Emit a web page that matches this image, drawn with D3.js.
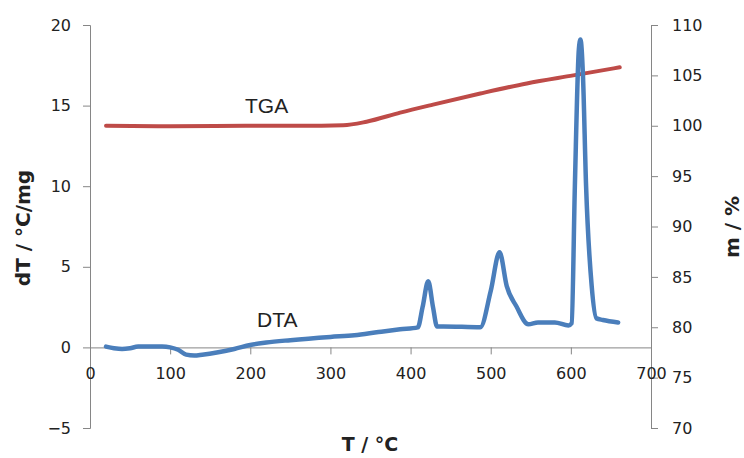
<!DOCTYPE html>
<html>
<head>
<meta charset="utf-8">
<script src="https://cdn.jsdelivr.net/npm/d3@7"></script>
<style>
  body { margin: 0; background: #fff; }
  text { font-family: "DejaVu Sans", sans-serif; fill: #222; }
  .axis path, .axis line { stroke: #868686; }
</style>
</head>
<body>
<script>
// temperature (°C) and DTA signal (dT / °C/mg)
var dtaT = [20, 30, 40, 50, 60, 70, 80, 90, 100, 110, 120, 130, 140, 160, 180, 200, 220, 250, 300, 330, 360, 387, 409, 415, 422, 428, 433, 441, 487, 500, 511, 520, 532, 547, 559, 580, 597, 601, 605, 610, 612, 615, 619, 626, 632, 640, 659];
var dtaV = [0.05, -0.05, -0.1, -0.05, 0.05, 0.05, 0.05, 0.05, 0.0, -0.15, -0.45, -0.5, -0.45, -0.3, -0.1, 0.15, 0.3, 0.45, 0.65, 0.75, 0.95, 1.12, 1.24, 2.5, 4.1, 2.5, 1.3, 1.3, 1.25, 3.5, 5.9, 3.8, 2.55, 1.43, 1.55, 1.55, 1.36, 1.5, 10, 18.5, 19.1, 17, 10, 3.8, 1.8, 1.7, 1.55];

// temperature (°C) and mass (m / %)
var tgaT = [20, 100, 200, 262, 316, 345, 387, 428, 487, 545, 603, 661];
var tgaV = [100, 99.95, 100, 100, 100.05, 100.4, 101.3, 102.1, 103.2, 104.2, 105.0, 105.8];

var xTicks = [0, 100, 200, 300, 400, 500, 600, 700];
var leftTicks = [-5, 0, 5, 10, 15, 20];
var rightTicks = [70, 75, 80, 85, 90, 95, 100, 105, 110];

var w = 744, h = 458;

var svg = d3.select("body").append("svg")
    .attr("width", w)
    .attr("height", h);

var x = d3.scaleLinear().domain([0, 700]).range([90, 651]);
var yL = d3.scaleLinear().domain([-5, 20]).range([428, 25]);
var yR = d3.scaleLinear().domain([70, 110]).range([428, 25]);

// left axis
var gL = svg.append("g").attr("class", "axis")
    .attr("transform", "translate(90,0)")
    .call(d3.axisLeft(yL).tickValues(leftTicks).tickSize(7).tickSizeOuter(7).tickPadding(12));

// right axis
var gR = svg.append("g").attr("class", "axis")
    .attr("transform", "translate(651,0)")
    .call(d3.axisRight(yR).tickValues(rightTicks).tickSize(7).tickSizeOuter(7).tickPadding(14));

// x axis sits at dT = 0
var gX = svg.append("g").attr("class", "axis")
    .attr("transform", "translate(0," + yL(0) + ")")
    .call(d3.axisBottom(x).tickValues(xTicks).tickSize(7).tickSizeOuter(0).tickPadding(13));

svg.selectAll(".axis text")
    .style("font-family", "'DejaVu Sans', sans-serif")
    .style("font-size", "16px")
    .style("fill", "#222");

// lines
var dta = dtaT.map(function (t, i) { return [t, dtaV[i]]; });
var tga = tgaT.map(function (t, i) { return [t, tgaV[i]]; });

var dtaLine = d3.line()
    .x(function (d) { return x(d[0]); })
    .y(function (d) { return yL(d[1]); })
    .curve(d3.curveMonotoneX);

var tgaLine = d3.line()
    .x(function (d) { return x(d[0]); })
    .y(function (d) { return yR(d[1]); })
    .curve(d3.curveMonotoneX);

svg.append("path").datum(tga)
    .attr("d", tgaLine)
    .attr("fill", "none")
    .attr("stroke", "#be4b48")
    .attr("stroke-width", 4)
    .attr("stroke-linecap", "round");

svg.append("path").datum(dta)
    .attr("d", dtaLine)
    .attr("fill", "none")
    .attr("stroke", "#4a7ebb")
    .attr("stroke-width", 4.5)
    .attr("stroke-linecap", "round")
    .attr("stroke-linejoin", "round");

// series labels
svg.append("text").attr("x", 245).attr("y", 113)
    .style("font-family", "'Liberation Sans', Arial, sans-serif")
    .style("font-size", "21px")
    .text("TGA");
svg.append("text").attr("x", 257).attr("y", 327)
    .style("font-family", "'Liberation Sans', Arial, sans-serif")
    .style("font-size", "21px")
    .text("DTA");

// axis titles
svg.append("text")
    .attr("x", 370).attr("y", 451)
    .attr("text-anchor", "middle")
    .style("font-weight", "bold")
    .style("font-size", "19px")
    .text("T / °C");

svg.append("text")
    .attr("transform", "translate(30,228) rotate(-90)")
    .attr("text-anchor", "middle")
    .style("font-weight", "bold")
    .style("font-size", "20px")
    .text("dT / °C/mg");

svg.append("text")
    .attr("transform", "translate(739,227) rotate(-90)")
    .attr("text-anchor", "middle")
    .style("font-weight", "bold")
    .style("font-size", "20px")
    .text("m / %");
</script>
</body>
</html>
